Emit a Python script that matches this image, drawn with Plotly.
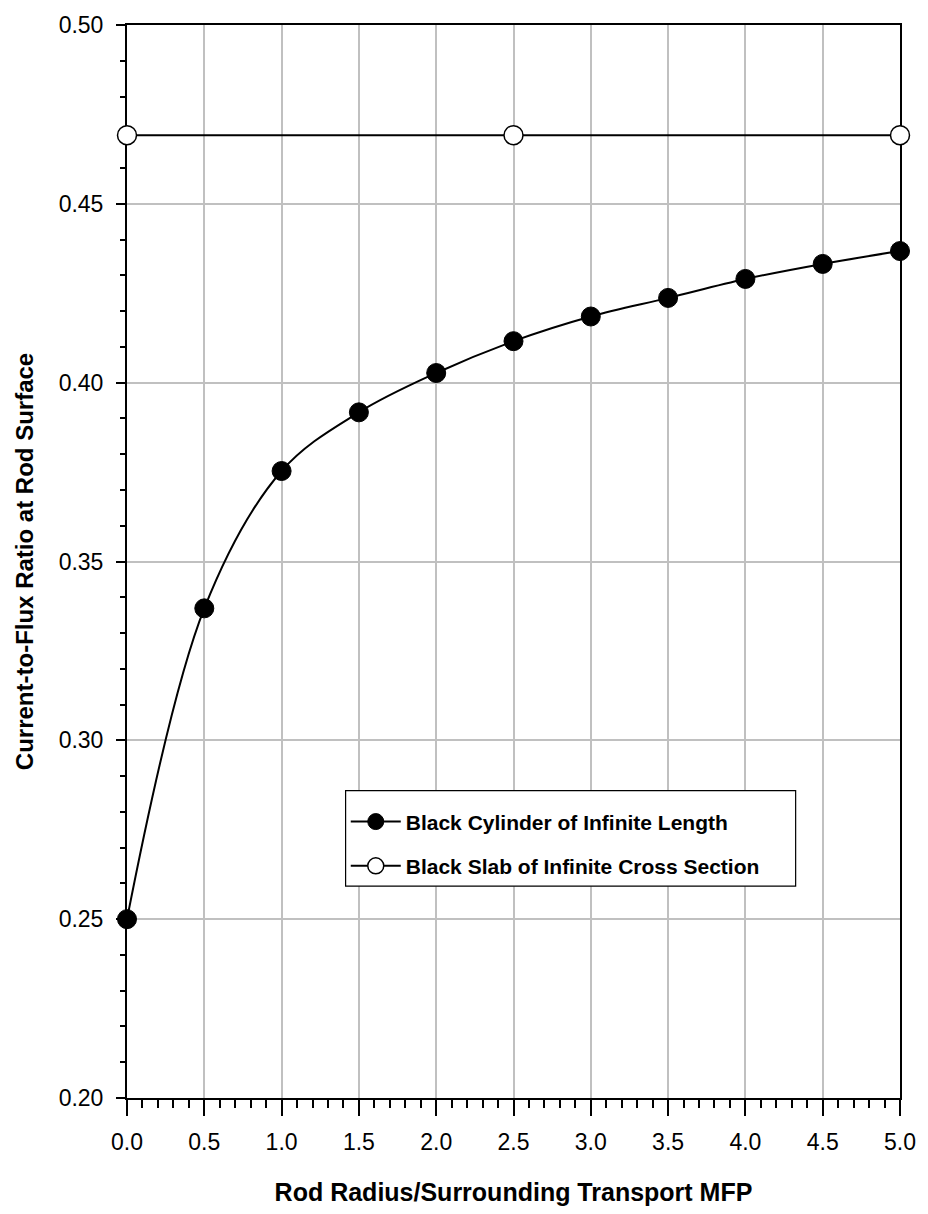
import plotly.graph_objects as go

# Data
cyl_x = [0.0, 0.5, 1.0, 1.5, 2.0, 2.5, 3.0, 3.5, 4.0, 4.5, 5.0]
cyl_y = [0.2500, 0.3369, 0.3753, 0.3917, 0.4027, 0.4116, 0.4185, 0.4237, 0.4290, 0.4332, 0.4368]
slab_x = [0.0, 2.5, 5.0]
slab_y = [0.4692, 0.4692, 0.4692]

x_ticks = [0.0, 0.5, 1.0, 1.5, 2.0, 2.5, 3.0, 3.5, 4.0, 4.5, 5.0]
y_ticks = [0.20, 0.25, 0.30, 0.35, 0.40, 0.45, 0.50]

FONT = "Liberation Sans, Arial, sans-serif"

fig = go.Figure()
fig.add_trace(go.Scatter(
    x=cyl_x, y=cyl_y, mode="lines+markers",
    name="<b>Black Cylinder of Infinite Length</b>",
    line=dict(color="black", width=2, shape="spline", smoothing=1.0),
    marker=dict(symbol="circle", size=19, color="black", line=dict(color="black", width=1)),
    cliponaxis=False, legendgroup="a",
))
fig.add_trace(go.Scatter(
    x=slab_x, y=slab_y, mode="lines+markers",
    name="<b>Black Slab of Infinite Cross Section</b>",
    line=dict(color="black", width=2),
    marker=dict(symbol="circle", size=19, color="white", line=dict(color="black", width=1.5)),
    cliponaxis=False, legendgroup="b",
))

# legend frame
fig.add_shape(type="rect", xref="paper", yref="paper",
              x0=0.2828, x1=0.865, y0=0.1974, y1=0.2865,
              fillcolor="white", line=dict(color="black", width=1.2), layer="above")

fig.update_layout(
    width=928, height=1214,
    margin=dict(l=127, r=23, t=16, b=109),
    paper_bgcolor="white", plot_bgcolor="white",
    font=dict(family=FONT, color="black", size=23),
    showlegend=True,
    legend=dict(
        x=0.283, y=0.2764, xanchor="left", yanchor="top",
        bgcolor="rgba(0,0,0,0)", borderwidth=0,
        font=dict(family=FONT, size=21, color="black"),
        traceorder="grouped", tracegroupgap=14,
        itemwidth=50,
    ),
    xaxis=dict(
        range=[0, 5], tickvals=x_ticks, tickformat=".1f",
        showgrid=True, gridcolor="#c0c0c0", gridwidth=2,
        showline=True, linecolor="black", linewidth=2, mirror=True,
        ticks="outside", ticklen=16, tickwidth=1.5, tickcolor="black",
        minor=dict(dtick=0.1, ticks="outside", ticklen=8, tickwidth=1.5, tickcolor="black", showgrid=False),
        zeroline=False, layer="below traces",
        tickfont=dict(size=23), ticklabelstandoff=6,
        title=dict(text="<b>Rod Radius/Surrounding Transport MFP</b>", font=dict(size=25), standoff=30),
    ),
    yaxis=dict(
        range=[0.20, 0.50], tickvals=y_ticks, tickformat=".2f",
        showgrid=True, gridcolor="#c0c0c0", gridwidth=2,
        showline=True, linecolor="black", linewidth=2, mirror=True,
        ticks="outside", ticklen=9, tickwidth=1.5, tickcolor="black",
        minor=dict(dtick=0.01, ticks="outside", ticklen=5, tickwidth=1.5, tickcolor="black", showgrid=False),
        zeroline=False, layer="below traces",
        tickfont=dict(size=23), ticklabelstandoff=8,
        title=dict(text="<b>Current-to-Flux Ratio at Rod Surface</b>", font=dict(size=24), standoff=18),
    ),
)

fig.write_html("out.html", config={"displayModeBar": False},
               post_script="document.body.style.margin='0';")
